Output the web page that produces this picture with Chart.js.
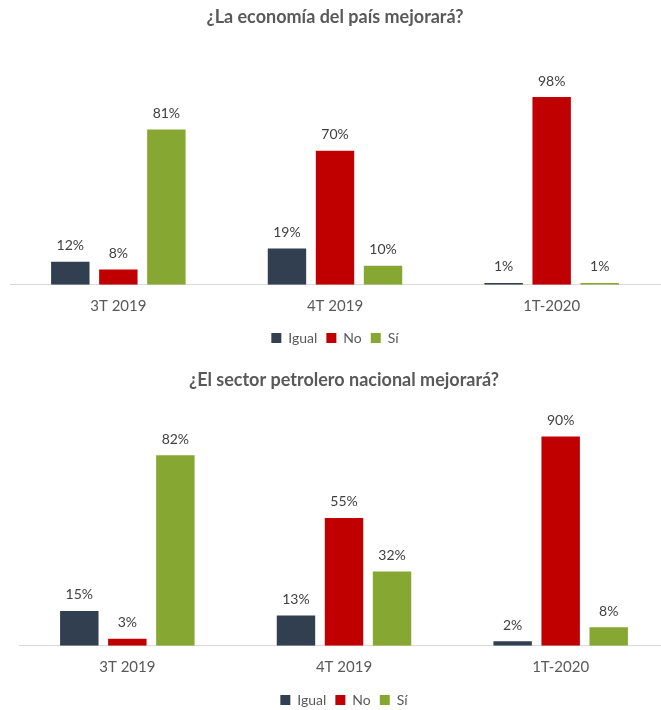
<!DOCTYPE html>
<html>
<head>
<meta charset="utf-8">
<script src="https://cdn.jsdelivr.net/npm/chart.js@4/dist/chart.umd.min.js"></script>
<style>
  html, body { margin: 0; padding: 0; background: #fff; overflow: hidden; }
  .box { position: absolute; width: 661px; }
  #b1 { left: 0; top: 0; height: 355px; }
  #b2 { left: 9px; top: 355px; height: 362px; }
</style>
</head>
<body>
<div class="box" id="b1"><canvas id="chart1"></canvas></div>
<div class="box" id="b2"><canvas id="chart2"></canvas></div>
<script>
// categories and series
const periods = ['3T 2019', '4T 2019', '1T-2020'];
const seriesNames = ['Igual', 'No', 'Sí'];
const seriesColors = ['#323f50', '#c00000', '#86a832'];

// ¿La economía del país mejorará?
const economiaIgual = [12, 19, 1];
const economiaNo = [8, 70, 98];
const economiaSi = [81, 10, 1];

// ¿El sector petrolero nacional mejorará?
const petroleoIgual = [15, 13, 2];
const petroleoNo = [3, 55, 90];
const petroleoSi = [82, 32, 8];

const fontName = "Lato, 'Open Sans', sans-serif";
const textGray = '#595959';

// draws the % above every bar
const valueLabels = {
    id: 'valueLabels',
    afterDatasetsDraw(chart) {
        const ctx = chart.ctx;
        ctx.save();
        ctx.font = '14px ' + fontName;
        ctx.fillStyle = '#404040';
        ctx.textAlign = 'center';
        ctx.textBaseline = 'bottom';
        chart.data.datasets.forEach((ds, i) => {
            chart.getDatasetMeta(i).data.forEach((bar, j) => {
                ctx.fillText(ds.data[j] + '%', bar.x, bar.y - 9);
            });
        });
        ctx.restore();
    }
};

function makeChart(id, title, values, yMax, pad, gapBelowTicks) {
    const ctx = document.getElementById(id).getContext('2d');
    return new Chart(ctx, {
        type: 'bar',
        data: {
            labels: periods,
            datasets: seriesNames.map((name, i) => ({
                label: name,
                data: values[i],
                backgroundColor: seriesColors[i],
                barPercentage: 0.8,
                categoryPercentage: 0.665
            }))
        },
        options: {
            responsive: true,
            maintainAspectRatio: false,
            animation: false,
            layout: { padding: pad },
            plugins: {
                title: {
                    display: true,
                    text: title,
                    color: textGray,
                    font: { family: fontName, size: 18, weight: 'bold' },
                    padding: { top: 6, bottom: 10 }
                },
                legend: {
                    position: 'bottom',
                    labels: {
                        color: textGray,
                        font: { family: fontName, size: 14 },
                        boxWidth: 10,
                        boxHeight: 10,
                        padding: 9
                    }
                },
                tooltip: { enabled: false }
            },
            scales: {
                x: {
                    grid: { display: false },
                    border: { color: '#d9d9d9', width: 1 },
                    ticks: {
                        color: textGray,
                        font: { family: fontName, size: 15 },
                        padding: 4
                    },
                    // empty title, only used as spacing above the legend
                    title: {
                        display: true,
                        text: '',
                        font: { size: 1 },
                        padding: { top: 0, bottom: gapBelowTicks }
                    }
                },
                y: {
                    display: false,
                    min: 0,
                    max: yMax
                }
            }
        },
        plugins: [valueLabels]
    });
}

makeChart('chart1', '¿La economía del país mejorará?',
    [economiaIgual, economiaNo, economiaSi], 129,
    { left: 10, right: 1, top: 0, bottom: 0 }, 2);
makeChart('chart2', '¿El sector petrolero nacional mejorará?',
    [petroleoIgual, petroleoNo, petroleoSi], 105.5,
    { left: 10, right: 1, top: 8, bottom: 0 }, 3);
</script>
</body>
</html>
